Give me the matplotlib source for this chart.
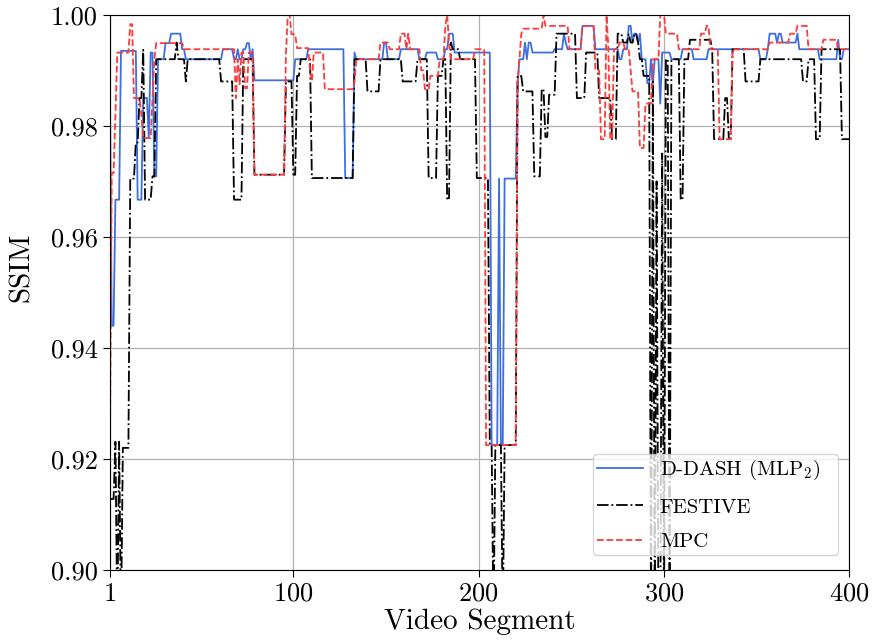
import numpy as np
import matplotlib
matplotlib.use("Agg")
import matplotlib.pyplot as plt

plt.rcParams["font.family"] = "serif"
plt.rcParams["font.serif"] = ["cmr10"]
plt.rcParams["mathtext.fontset"] = "cm"
plt.rcParams["axes.formatter.use_mathtext"] = True

N_SEGMENTS = 400

# Per-segment SSIM, stored as runs: first segment of each run and its SSIM value.
ddash_start = [1, 2, 4, 7, 16, 19, 22, 23, 25, 27, 31, 34, 40, 42, 62, 68, 70, 71, 73, 75,
               77, 78, 79, 101, 108, 128, 133, 134, 149, 151, 158, 168, 172, 178, 182, 184,
               187, 207, 211, 212, 214, 221, 222, 225, 226, 227, 229, 241, 246, 247, 248,
               256, 263, 276, 278, 281, 283, 284, 286, 287, 288, 291, 293, 294, 295, 298,
               299, 304, 310, 316, 324, 352, 356, 357, 361, 362, 364, 372, 373, 384, 394,
               395, 397]
ddash_ssim = [0.9883, 0.9440, 0.9667, 0.9935, 0.9667, 0.9850, 0.9778, 0.9932, 0.9709, 0.9920,
              0.9949, 0.9966, 0.9938, 0.9920, 0.9938, 0.9920, 0.9938, 0.9920, 0.9938, 0.9949,
              0.9920, 0.9938, 0.9882, 0.9920, 0.9938, 0.9706, 0.9932, 0.9920, 0.9950, 0.9920,
              0.9938, 0.9920, 0.9932, 0.9920, 0.9938, 0.9966, 0.9932, 0.9225, 0.9705, 0.9225,
              0.9705, 0.9877, 0.9920, 0.9950, 0.9920, 0.9950, 0.9932, 0.9938, 0.9966, 0.9950,
              0.9938, 0.9980, 0.9938, 0.9920, 0.9938, 0.9980, 0.9950, 0.9966, 0.9950, 0.9966,
              0.9920, 0.9877, 0.9920, 0.9877, 0.9920, 0.9840, 0.9932, 0.9920, 0.9938, 0.9920,
              0.9938, 0.9920, 0.9938, 0.9966, 0.9950, 0.9966, 0.9950, 0.9966, 0.9938, 0.9920,
              0.9955, 0.9920, 0.9938]

festive_start = [1, 4, 5, 6, 7, 8, 12, 15, 17, 19, 20, 24, 26, 37, 38, 42, 43, 61, 68, 73,
                 79, 96, 100, 102, 104, 110, 133, 140, 147, 159, 167, 173, 178, 181, 183,
                 185, 186, 190, 199, 206, 208, 209, 213, 214, 221, 224, 230, 234, 236, 238,
                 242, 253, 258, 265, 272, 275, 278, 281, 282, 284, 286, 287, 289, 293, 294,
                 295, 296, 297, 299, 300, 301, 303, 304, 309, 311, 314, 326, 327, 333, 335,
                 337, 344, 352, 375, 378, 382, 385, 396]
festive_ssim = [0.9128, 0.9231, 0.8900, 0.9231, 0.8900, 0.9220, 0.9705, 0.9770, 0.9850, 0.9937,
                0.9667, 0.9709, 0.9920, 0.9950, 0.9920, 0.9880, 0.9920, 0.9880, 0.9667, 0.9920,
                0.9712, 0.9880, 0.9712, 0.9890, 0.9920, 0.9706, 0.9920, 0.9862, 0.9920, 0.9880,
                0.9920, 0.9706, 0.9890, 0.9920, 0.9667, 0.9950, 0.9938, 0.9920, 0.9706, 0.9225,
                0.8900, 0.9225, 0.8900, 0.9225, 0.9890, 0.9862, 0.9709, 0.9866, 0.9780, 0.9856,
                0.9966, 0.9850, 0.9932, 0.9850, 0.9776, 0.9966, 0.9950, 0.9966, 0.9950, 0.9966,
                0.9950, 0.9920, 0.9890, 0.8900, 0.9880, 0.8900, 0.9700, 0.8900, 0.9750, 0.8900,
                0.9920, 0.8900, 0.9920, 0.9667, 0.9920, 0.9955, 0.9938, 0.9776, 0.9850, 0.9776,
                0.9938, 0.9880, 0.9920, 0.9880, 0.9920, 0.9776, 0.9938, 0.9776]

mpc_start = [1, 2, 4, 5, 12, 14, 18, 19, 24, 25, 26, 41, 69, 70, 71, 72, 74, 76, 79, 96, 97,
             99, 102, 109, 110, 111, 117, 133, 134, 147, 152, 158, 161, 162, 163, 169, 171,
             174, 179, 182, 183, 184, 185, 198, 204, 221, 222, 223, 224, 235, 236, 249, 256,
             263, 266, 269, 270, 271, 273, 276, 279, 282, 283, 287, 290, 294, 298, 301, 308,
             320, 323, 325, 330, 337, 357, 368, 372, 378, 386, 394]
mpc_ssim = [0.9210, 0.9715, 0.9820, 0.9932, 0.9983, 0.9850, 0.9820, 0.9778, 0.9850, 0.9920,
            0.9949, 0.9938, 0.9850, 0.9920, 0.9875, 0.9932, 0.9868, 0.9932, 0.9712, 0.9930,
            1.0000, 0.9965, 0.9940, 0.9900, 0.9880, 0.9932, 0.9866, 0.9880, 0.9920, 0.9950,
            0.9938, 0.9966, 0.9938, 0.9966, 0.9938, 0.9900, 0.9866, 0.9890, 0.9920, 0.9980,
            1.0000, 0.9950, 0.9920, 0.9938, 0.9225, 0.9877, 0.9920, 0.9966, 0.9975, 1.0000,
            0.9980, 0.9938, 0.9980, 0.9900, 0.9776, 1.0000, 0.9938, 0.9776, 0.9938, 0.9950,
            0.9938, 0.9900, 0.9862, 0.9760, 0.9840, 0.9920, 1.0000, 0.9966, 0.9938, 0.9966,
            0.9980, 0.9938, 0.9776, 0.9938, 0.9950, 0.9966, 0.9980, 0.9938, 0.9955, 0.9938]

x_ticks = [1, 100, 200, 300, 400]
y_ticks = [0.90, 0.92, 0.94, 0.96, 0.98, 1.00]


def expand(starts, values, n=N_SEGMENTS):
    lengths = np.diff(list(starts) + [n + 1])
    return np.repeat(values, lengths)


segments = np.arange(1, N_SEGMENTS + 1)
ddash = expand(ddash_start, ddash_ssim)
festive = expand(festive_start, festive_ssim)
mpc = expand(mpc_start, mpc_ssim)

fig = plt.figure(figsize=(8.72, 6.43), dpi=100)
ax = fig.add_axes([0.126, 0.1135, 0.848, 0.8635])

ax.plot(segments, ddash, color="#3d6fe0", lw=1.3, ls="-", label=r"D-DASH (MLP$_2$)")
ax.plot(segments, festive, color="black", lw=1.3, ls="-.", label="FESTIVE")
ax.plot(segments, mpc, color="#ff3b3b", lw=1.3, ls="--", label="MPC")

ax.set_xlim(1, 400)
ax.set_ylim(0.90, 1.00)
ax.set_xticks(x_ticks)
ax.set_yticks(y_ticks)
ax.set_yticklabels([f"{v:.2f}" for v in y_ticks])
ax.tick_params(axis="both", labelsize=19, direction="out", length=5)
ax.grid(True, color="#b0b0b0", lw=0.9)
ax.set_axisbelow(True)

ax.set_xlabel("Video Segment", fontsize=21, labelpad=2)
ax.set_ylabel("SSIM", fontsize=21)
ax.yaxis.set_label_coords(-0.102, 0.545)

ax.legend(loc="lower left", mode="expand", bbox_to_anchor=(0.6536, 0.027, 0.3314, 0.1),
          borderaxespad=0.0, fontsize=15, framealpha=0.8, handlelength=2.2,
          handletextpad=0.8, labelspacing=0.75, borderpad=0.2)

fig.savefig("out.png", dpi=100)
